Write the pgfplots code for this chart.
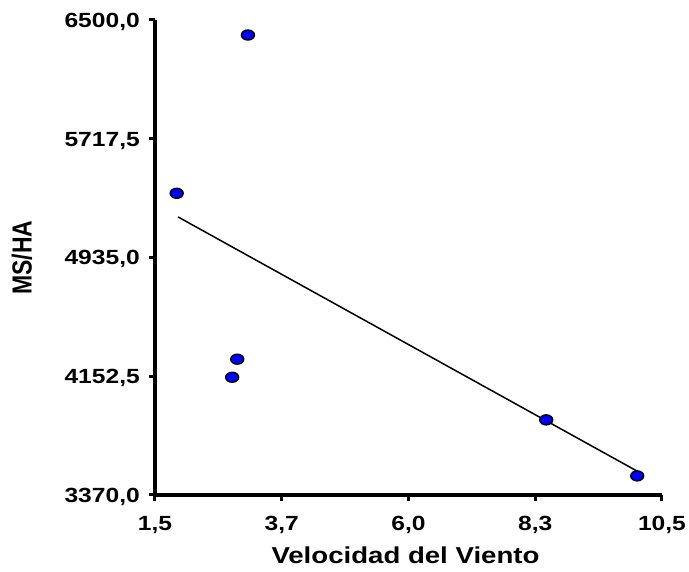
\documentclass[border=0pt]{standalone}
\usepackage{pgfplots}
\pgfplotsset{compat=1.18}
\usepackage{fontspec}
\usepackage{graphicx}
\setmainfont[FakeStretch=1.2]{Liberation Sans}
\newfontfamily\plainsans{Liberation Sans}
\begin{document}
\begin{tikzpicture}[x=1pt,y=1pt]
\begin{axis}[
  at={(0,0)}, anchor=south west,
  scale only axis, width=507pt, height=475pt,
  xmin=1.5, xmax=10.5, ymin=3370, ymax=6500,
  axis x line*=bottom, axis y line*=left,
  axis line style={line width=3.5pt, -},
  xtick={1.5,3.75,6,8.25,10.5},
  xticklabels={{1,5},{3,7},{6,0},{8,3},{10,5}},
  ytick={3370,4152.5,4935,5717.5,6500},
  yticklabels={{3370,0},{4152,5},{4935,0},{5717,5},{6500,0}},
  tick align=outside, major tick length=6pt,
  every tick/.style={black, line width=3pt},
  tick label style={font=\fontsize{20.5}{21}\selectfont\bfseries},
  yticklabel style={anchor=base east, inner sep=0pt, xshift=-9pt, yshift=-7.3pt},
  xticklabel style={anchor=north, inner sep=0pt, yshift=-15pt},
  label style={font=\fontsize{23}{24}\selectfont\bfseries},
  xlabel={Velocidad del Viento},
  xlabel style={at={(axis description cs:0.494,0)}, anchor=base, yshift=-69pt},
  ylabel={\scalebox{1}[1.2]{\plainsans\bfseries MS/HA}},
  ylabel style={at={(axis description cs:-0.2623,0.5)}, anchor=center, rotate=0},
  clip=false,
]
\addplot[only marks, mark=*, mark size=5pt,
  mark options={fill=blue, draw=black, line width=1.4pt, xscale=1.3}]
  coordinates {(3.15,6401) (1.885,5358) (2.96,4265) (2.87,4146) (8.445,3865) (10.06,3496)};
\addplot[black, line width=1.5pt] coordinates {(1.91,5202) (10.06,3527)};
\end{axis}
\path[use as bounding box] (-155,-77) rectangle (534,495);
\end{tikzpicture}
\end{document}
